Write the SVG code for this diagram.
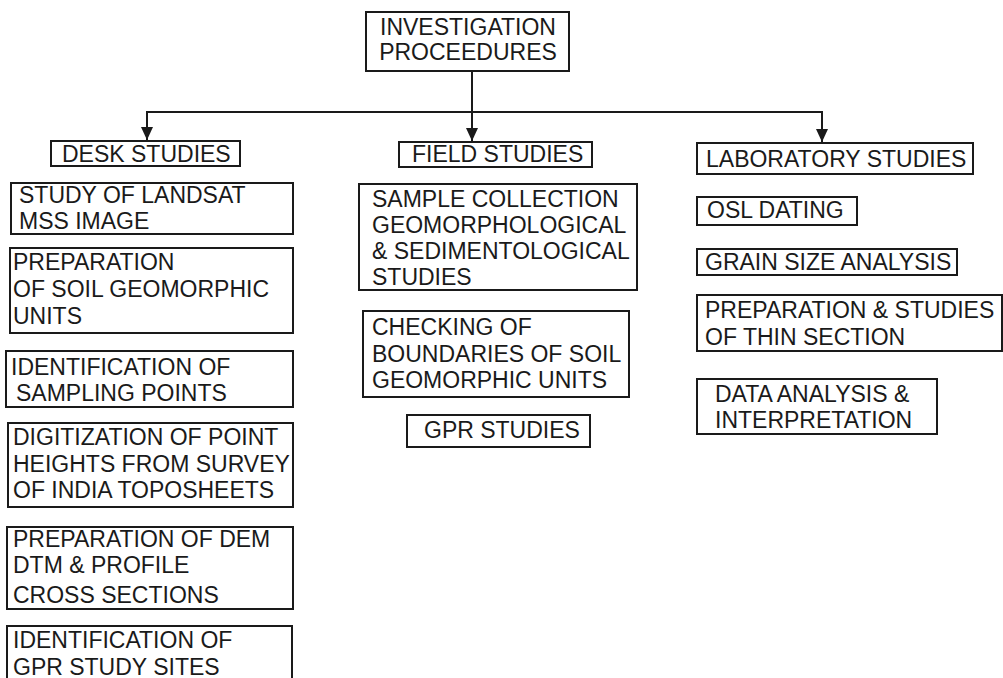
<svg xmlns="http://www.w3.org/2000/svg" width="1003" height="678" viewBox="0 0 1003 678">
<defs>
<style>
.box{fill:#fff;stroke:#1a1a1a;stroke-width:2}
.t{font-family:"Liberation Sans",Arial,Helvetica,sans-serif;font-size:23px;fill:#1a1a1a}
.c{text-anchor:middle}
.line{fill:none;stroke:#1a1a1a;stroke-width:2}
</style>
<marker id="ah" markerUnits="userSpaceOnUse" markerWidth="12" markerHeight="13" viewBox="0 0 12 13" refX="6" refY="13" orient="0">
<path d="M0,0 L12,0 L6,13 Z" fill="#1a1a1a"/>
</marker>
</defs>
<rect width="1003" height="678" fill="#fff"/>

<g id="connectors">
<line class="line" x1="147" y1="112" x2="822" y2="112"/>
<line class="line" x1="472" y1="71" x2="472" y2="141" marker-end="url(#ah)"/>
<line class="line" x1="147" y1="111" x2="147" y2="140" marker-end="url(#ah)"/>
<line class="line" x1="822" y1="111" x2="822" y2="142" marker-end="url(#ah)"/>
</g>

<g id="root">
<rect class="box" x="366" y="12" width="203" height="59"/>
<text class="t c" x="468" y="35">INVESTIGATION</text>
<text class="t c" x="468" y="60">PROCEEDURES</text>
</g>

<g id="desk">
<rect class="box" x="51" y="141" width="189" height="25"/>
<text class="t" x="62" y="162">DESK STUDIES</text>
</g>
<g id="desk1">
<rect class="box" x="11" y="183" width="282" height="51"/>
<text class="t" x="19" y="203">STUDY OF LANDSAT</text>
<text class="t" x="19" y="229">MSS IMAGE</text>
</g>
<g id="desk2">
<rect class="box" x="10" y="248" width="283" height="85"/>
<text class="t" x="13" y="270">PREPARATION</text>
<text class="t" x="13" y="297">OF SOIL GEOMORPHIC</text>
<text class="t" x="13" y="324">UNITS</text>
</g>
<g id="desk3">
<rect class="box" x="6" y="351" width="287" height="56"/>
<text class="t" x="11" y="375">IDENTIFICATION OF</text>
<text class="t" x="16" y="401">SAMPLING POINTS</text>
</g>
<g id="desk4">
<rect class="box" x="8" y="423" width="285" height="84"/>
<text class="t" x="13" y="445">DIGITIZATION OF POINT</text>
<text class="t" x="13" y="472">HEIGHTS FROM SURVEY</text>
<text class="t" x="13" y="498">OF INDIA TOPOSHEETS</text>
</g>
<g id="desk5">
<rect class="box" x="7" y="527" width="286" height="82"/>
<text class="t" x="13" y="547">PREPARATION OF DEM</text>
<text class="t" x="13" y="573">DTM &amp; PROFILE</text>
<text class="t" x="13" y="603">CROSS SECTIONS</text>
</g>
<g id="desk6">
<rect class="box" x="7" y="626" width="285" height="70"/>
<text class="t" x="13" y="648">IDENTIFICATION OF</text>
<text class="t" x="13" y="675">GPR STUDY SITES</text>
</g>

<g id="field">
<rect class="box" x="399" y="142" width="193" height="25"/>
<text class="t" x="412" y="162">FIELD STUDIES</text>
</g>
<g id="field1">
<rect class="box" x="359" y="184" width="278" height="106"/>
<text class="t" x="372" y="207">SAMPLE COLLECTION</text>
<text class="t" x="372" y="233">GEOMORPHOLOGICAL</text>
<text class="t" x="372" y="259">&amp; SEDIMENTOLOGICAL</text>
<text class="t" x="372" y="285">STUDIES</text>
</g>
<g id="field2">
<rect class="box" x="363" y="311" width="266" height="86"/>
<text class="t" x="372" y="335">CHECKING OF</text>
<text class="t" x="372" y="362">BOUNDARIES OF SOIL</text>
<text class="t" x="372" y="388">GEOMORPHIC UNITS</text>
</g>
<g id="field3">
<rect class="box" x="407" y="415" width="183" height="32"/>
<text class="t" x="424" y="438">GPR STUDIES</text>
</g>

<g id="lab">
<rect class="box" x="697" y="143" width="276" height="31"/>
<text class="t" x="706" y="167">LABORATORY STUDIES</text>
</g>
<g id="lab1">
<rect class="box" x="697" y="197" width="160" height="28"/>
<text class="t" x="707" y="218">OSL DATING</text>
</g>
<g id="lab2">
<rect class="box" x="697" y="249" width="260" height="26"/>
<text class="t" x="705" y="270">GRAIN SIZE ANALYSIS</text>
</g>
<g id="lab3">
<rect class="box" x="697" y="295" width="305" height="56"/>
<text class="t" x="705" y="318">PREPARATION &amp; STUDIES</text>
<text class="t" x="705" y="345">OF THIN SECTION</text>
</g>
<g id="lab4">
<rect class="box" x="697" y="379" width="240" height="55"/>
<text class="t" x="715" y="402">DATA ANALYSIS &amp;</text>
<text class="t" x="715" y="428">INTERPRETATION</text>
</g>
</svg>
